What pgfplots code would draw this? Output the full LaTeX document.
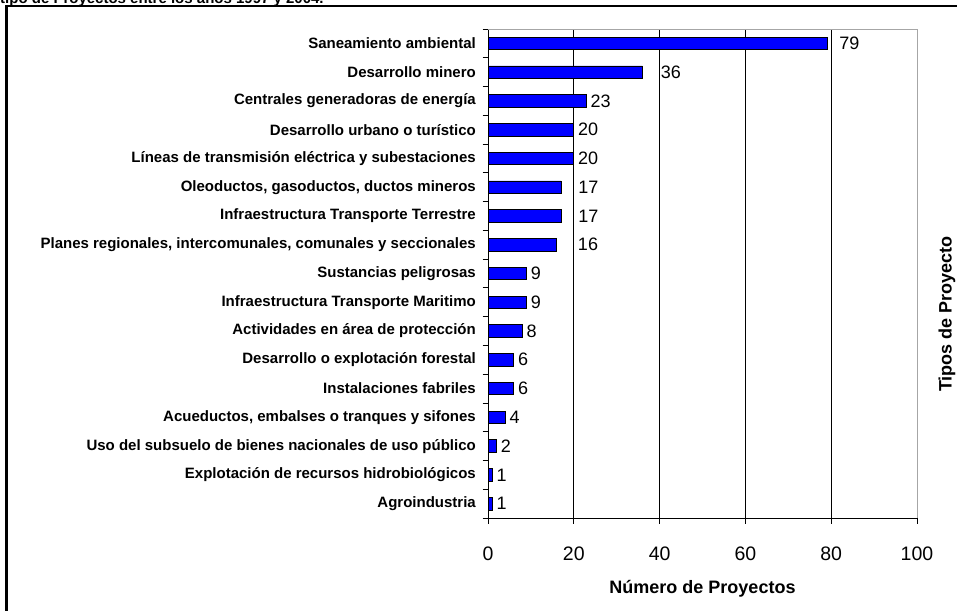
\documentclass[border=0pt]{standalone}
\usepackage{pgfplots}
\pgfplotsset{compat=1.18}
\usepackage{pgfplotstable}
\usepackage{fontspec}
\setmainfont{Liberation Sans}

% Number of projects per project type (idx 16 = top row)
% off = gap between bar end and its value label
\pgfplotstableread[col sep=comma]{
idx,val,off
16,79,12
15,36,18
14,23,3.5
13,20,4
12,20,4
11,17,17
10,17,17
9,16,21
8,9,4
7,9,4
6,8,4
5,6,4
4,6,4
3,4,4
2,2,4
1,1,4
0,1,4
}\proyectos

\begin{document}
\begin{tikzpicture}[x=1pt,y=1pt]
\useasboundingbox (0,0) rectangle (957,610);
\begin{scope}
  \clip (0,0) rectangle (957,610);
  \node[anchor=base west, inner sep=0pt, font=\bfseries\fontsize{15}{18}\selectfont]
    at (0,606.5) {tipo de Proyectos entre los años 1997 y 2004.};
  \draw[line width=2.6pt] (6.5,-10) -- (6.5,604) -- (970,604);
\end{scope}
\begin{axis}[
  at={(488pt,92pt)}, anchor=south west,
  scale only axis, width=429pt, height=489pt,
  xmin=0, xmax=100, ymin=-0.5, ymax=16.5,
  axis x line*=bottom, axis y line*=left,
  axis line style={black, line width=0.9pt},
  tick align=outside, major tick length=5.5pt,
  tick style={black, line width=0.8pt},
  /pgf/number format/assume math mode=true,
  xtick={0,20,40,60,80,100},
  xticklabel style={font=\fontsize{19.5}{23}\selectfont, yshift=-20pt},
  extra x ticks={20,40,60,80},
  extra x tick labels={,,,},
  extra x tick style={grid=major, major grid style={black, line width=0.8pt}},
  ytick={-0.5,0.5,...,16.5},
  yticklabels={,,,,,,,,,,,,,,,,,},
  extra y ticks={0,1,...,16},
  extra y tick labels={{Agroindustria\ },
    {Explotación de recursos hidrobiológicos},
    {Uso del subsuelo de bienes nacionales de uso público},
    {Acueductos, embalses o tranques y sifones},
    {Instalaciones fabriles},
    {Desarrollo o explotación forestal},
    {Actividades en área de protección},
    {Infraestructura Transporte Maritimo},
    {Sustancias peligrosas},
    {Planes regionales, intercomunales, comunales y seccionales},
    {Infraestructura Transporte Terrestre},
    {Oleoductos, gasoductos, ductos mineros},
    {Líneas de transmisión eléctrica y subestaciones},
    {Desarrollo urbano o turístico},
    {Centrales generadoras de energía},
    {Desarrollo minero},
    {Saneamiento ambiental}},
  extra y tick style={major tick length=0pt,
    tick label style={font=\bfseries\fontsize{15}{18}\selectfont, inner sep=0pt, xshift=-12pt}},
  xlabel={Número de Proyectos},
  ylabel={Tipos de Proyecto},
  every axis x label/.style={at={(axis description cs:0.5,-0.1452)}, anchor=center,
    font=\bfseries\fontsize{18}{21.6}\selectfont},
  every axis y label/.style={at={(axis description cs:1.0699,0.4172)}, anchor=center, rotate=90,
    font=\bfseries\fontsize{18}{21.6}\selectfont},
  clip=false,
]
\addplot[xbar, bar width=12.5pt, fill=blue, draw=black, line width=0.7pt,
  point meta=x,
  visualization depends on={\thisrow{off} \as \labeloff},
  nodes near coords,
  nodes near coords align={horizontal},
  every node near coord/.append style={anchor=west, inner sep=0pt, xshift=\labeloff pt,
    font=\fontsize{18}{21.6}\selectfont, text=black},
] table[x=val, y=idx] {\proyectos};
\draw[gray!70, line width=0.8pt] (rel axis cs:0,1) -- (rel axis cs:1,1) -- (rel axis cs:1,0);
\end{axis}
\end{tikzpicture}
\end{document}
